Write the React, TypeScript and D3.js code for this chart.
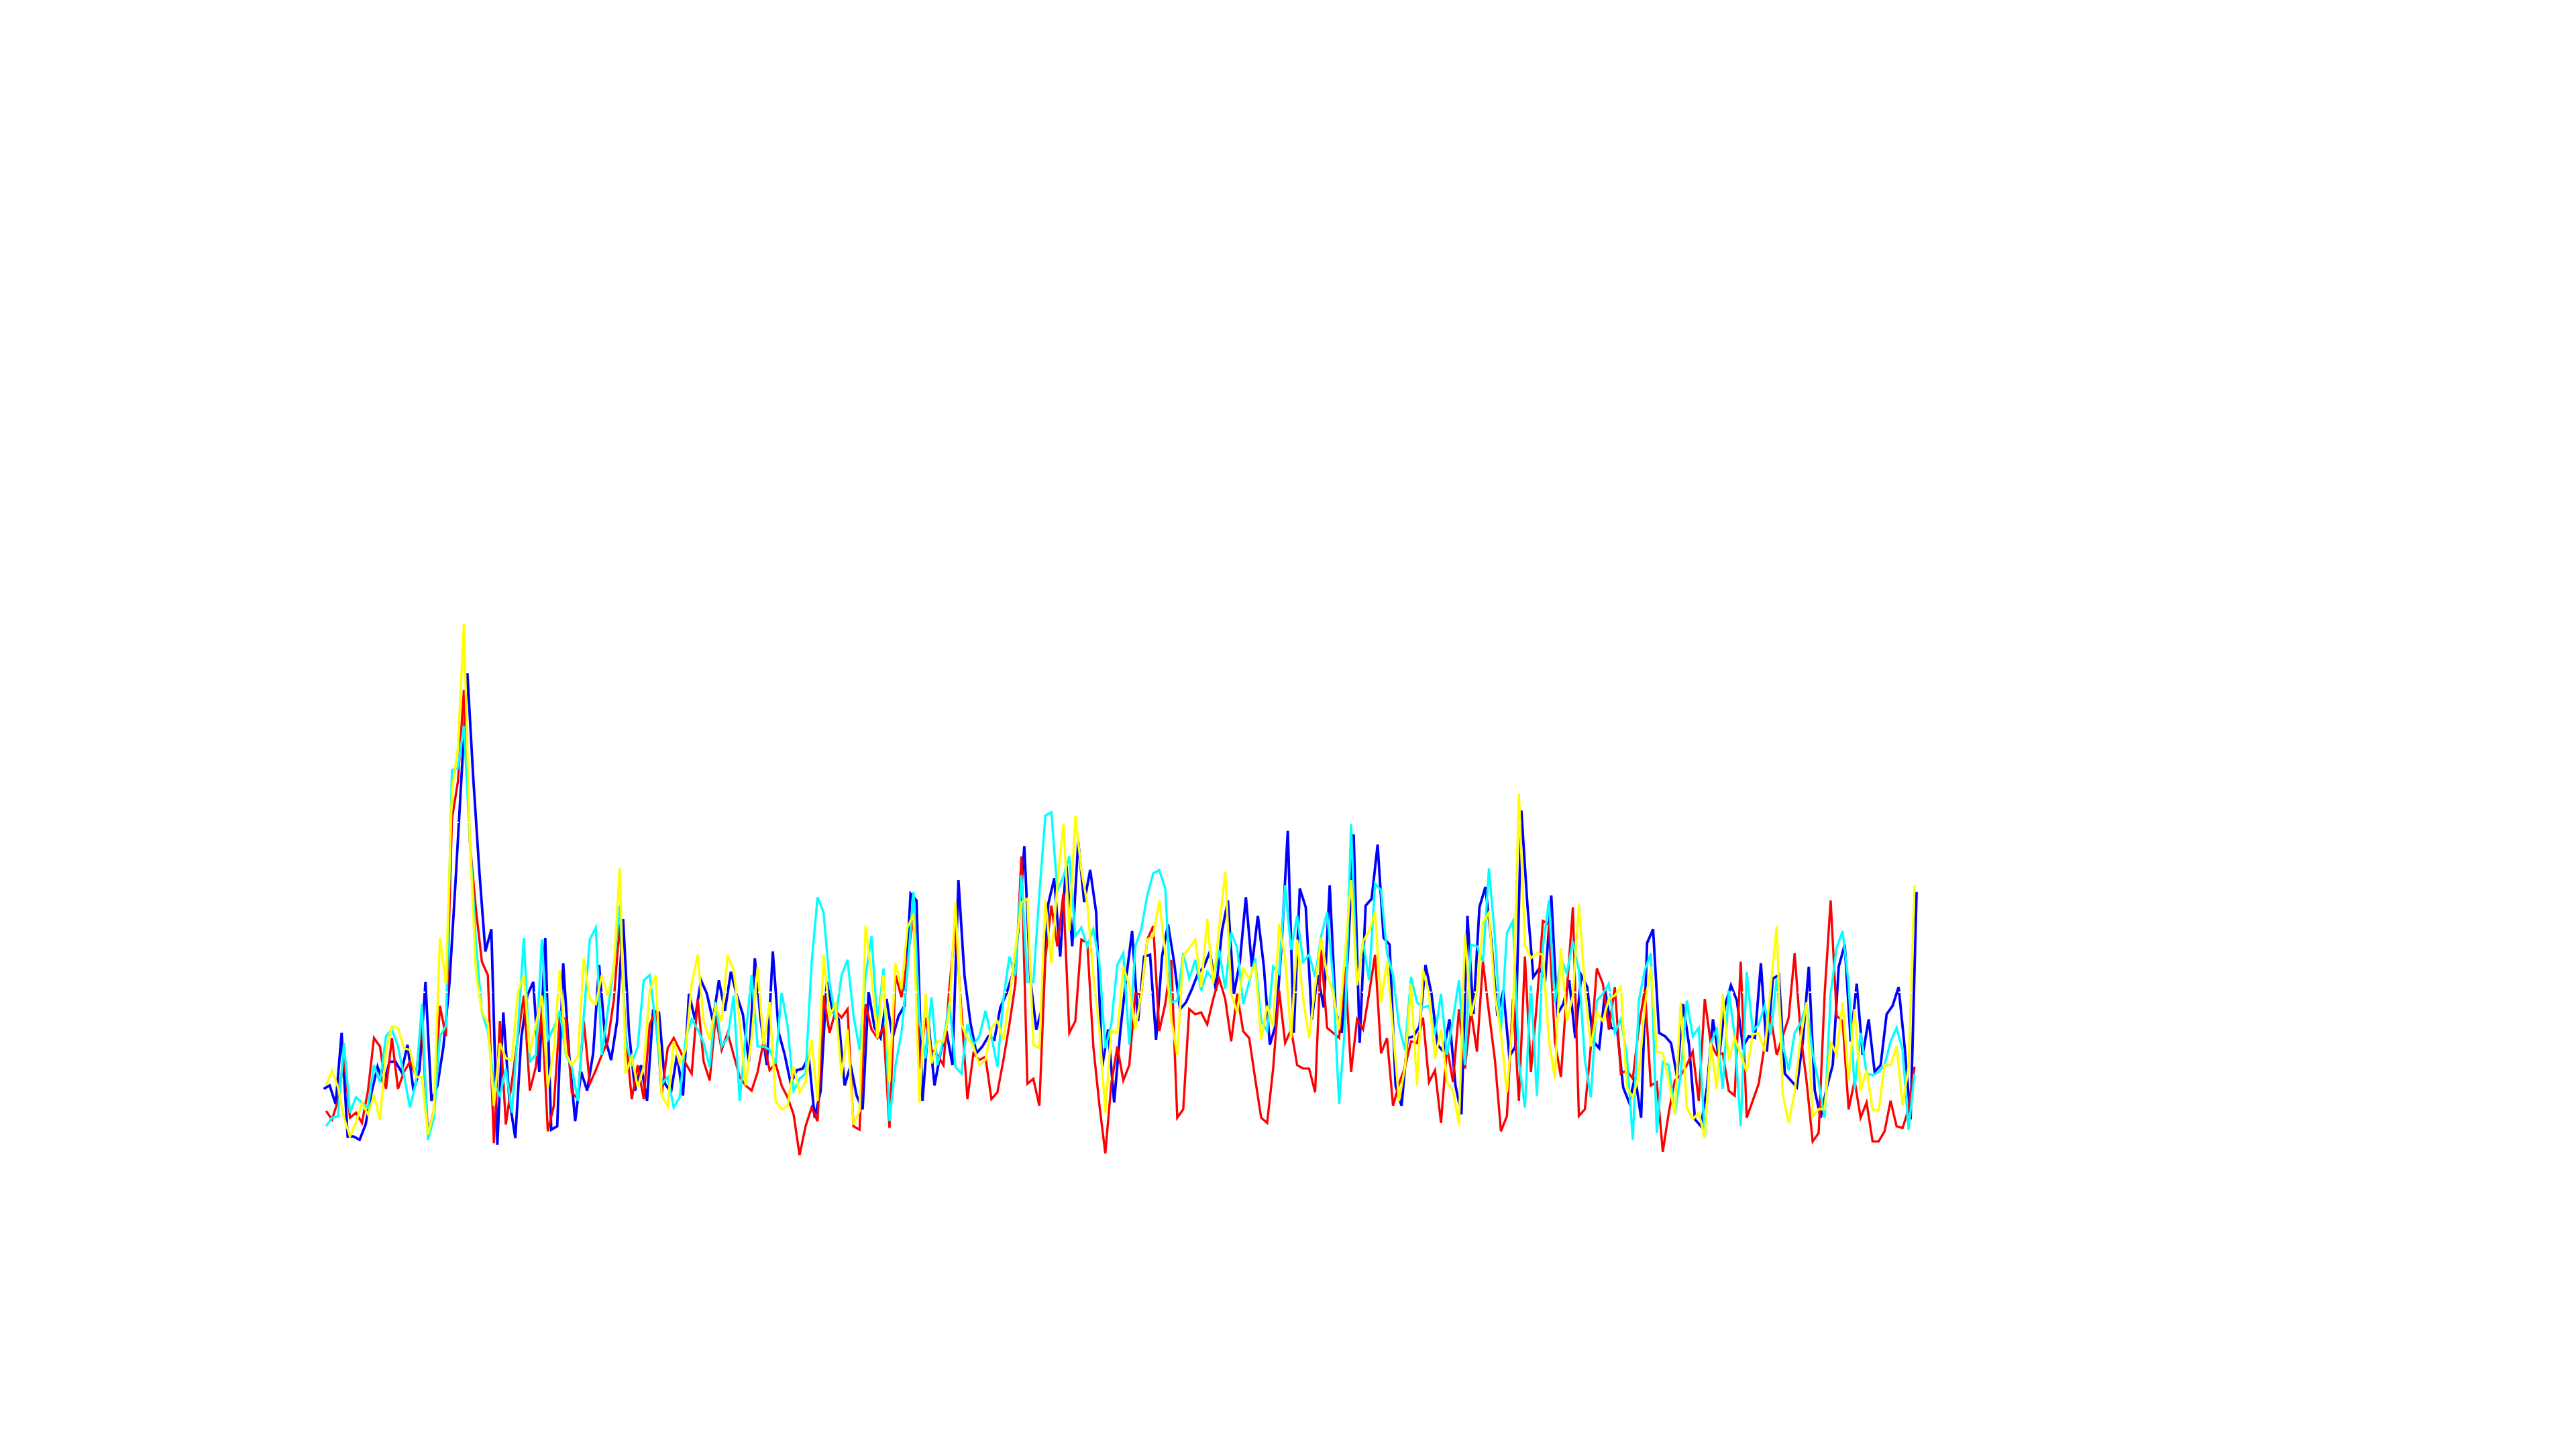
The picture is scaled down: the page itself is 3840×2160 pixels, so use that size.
import React, { useEffect, useRef } from "react";
import * as d3 from "d3";

// readings, one value per vertex
const blueValues = [
  0.43, 0.45, 0.34, 0.76, 0.15, 0.15, 0.13, 0.22, 0.41, 0.56,
  0.46, 0.59, 0.59, 0.53, 0.69, 0.42, 0.54, 1.06, 0.36, 0.45,
  0.68, 1.05, 1.64, 2.26, 2.88, 2.25, 1.71, 1.24, 1.37, 0.10,
  0.88, 0.37, 0.14, 0.73, 0.98, 1.06, 0.53, 1.32, 0.19, 0.21,
  1.17, 0.63, 0.24, 0.53, 0.42, 0.64, 1.16, 0.73, 0.60, 0.83,
  1.43, 0.76, 0.42, 0.57, 0.36, 0.89, 0.88, 0.46, 0.41, 0.63,
  0.39, 0.99, 0.84, 1.07, 0.99, 0.83, 1.07, 0.89, 1.12, 0.98,
  0.87, 0.59, 1.20, 0.83, 0.57, 1.24, 0.76, 0.63, 0.46, 0.54,
  0.55, 0.62, 0.26, 0.42, 1.06, 0.89, 0.84, 0.45, 0.57, 0.39,
  0.31, 1.00, 0.79, 0.73, 0.96, 0.73, 0.86, 0.92, 1.58, 1.54,
  0.36, 0.82, 0.45, 0.64, 0.77, 0.57, 1.66, 1.10, 0.82, 0.64,
  0.68, 0.74, 0.72, 0.91, 0.99, 1.10, 1.36, 1.86, 1.08, 0.78,
  0.91, 1.52, 1.67, 1.21, 1.77, 1.27, 1.89, 1.53, 1.72, 1.47,
  0.56, 0.78, 0.35, 0.76, 1.08, 1.36, 0.83, 1.21, 1.22, 0.72,
  1.21, 1.40, 1.18, 0.90, 0.94, 1.02, 1.11, 1.15, 1.24, 1.01,
  1.36, 1.54, 0.99, 1.18, 1.56, 1.15, 1.45, 1.15, 0.69, 0.81,
  1.30, 1.95, 0.76, 1.61, 1.50, 0.84, 1.10, 0.91, 1.63, 0.89,
  0.76, 1.20, 1.93, 0.70, 1.51, 1.55, 1.87, 1.32, 1.28, 0.45,
  0.33, 0.73, 0.74, 0.80, 1.16, 0.99, 0.69, 0.65, 0.84, 0.45,
  0.28, 1.45, 0.87, 1.50, 1.62, 1.30, 0.86, 1.01, 0.62, 0.68,
  2.07, 1.52, 1.09, 1.14, 1.08, 1.57, 0.87, 0.93, 1.07, 0.73,
  1.10, 1.03, 0.71, 0.67, 1.01, 0.79, 0.78, 0.44, 0.35, 0.50,
  0.26, 1.29, 1.37, 0.76, 0.74, 0.70, 0.50, 0.93, 0.69, 0.25,
  0.21, 0.44, 0.84, 0.61, 0.92, 1.04, 0.95, 0.68, 0.74, 0.73,
  1.17, 0.65, 1.08, 1.10, 0.52, 0.48, 0.44, 0.71, 1.15, 0.42,
  0.26, 0.44, 0.57, 1.15, 1.28, 0.71, 1.05, 0.63, 0.84, 0.53,
  0.57, 0.87, 0.92, 1.03, 0.68, 0.25, 1.59,
];

const redValues = [
  0.30, 0.25, 0.36, 0.62, 0.26, 0.29, 0.23, 0.42, 0.73, 0.68,
  0.43, 0.73, 0.43, 0.53, 0.59, 0.51, 0.81, 0.17, 0.30, 0.92,
  0.74, 2.02, 2.24, 2.78, 1.88, 1.49, 1.18, 1.10, 0.11, 0.83,
  0.22, 0.47, 0.73, 0.98, 0.42, 0.56, 0.89, 0.18, 0.33, 0.86,
  0.84, 0.41, 0.37, 0.83, 0.46, 0.54, 0.63, 0.71, 0.95, 1.40,
  0.74, 0.37, 0.57, 0.37, 0.81, 0.89, 0.40, 0.67, 0.73, 0.66,
  0.58, 0.52, 0.96, 0.59, 0.48, 0.86, 0.66, 0.76, 0.63, 0.50,
  0.45, 0.42, 0.53, 0.71, 0.54, 0.58, 0.45, 0.38, 0.28, 0.04,
  0.21, 0.32, 0.24, 0.98, 0.76, 0.89, 0.85, 0.90, 0.21, 0.19,
  0.93, 0.78, 0.73, 0.79, 0.20, 1.10, 0.97, 1.20, 1.45, 0.55,
  0.85, 0.66, 0.63, 0.57, 1.03, 1.40, 0.89, 0.37, 0.64, 0.60,
  0.62, 0.37, 0.41, 0.60, 0.81, 1.05, 1.80, 0.46, 0.49, 0.33,
  1.20, 1.51, 1.27, 1.58, 0.76, 0.83, 1.31, 1.29, 0.68, 0.34,
  0.05, 0.46, 0.68, 0.48, 0.57, 0.99, 0.99, 1.31, 1.39, 0.77,
  0.93, 1.19, 0.26, 0.31, 0.90, 0.87, 0.88, 0.81, 0.96, 1.08,
  0.96, 0.71, 0.99, 0.77, 0.73, 0.49, 0.26, 0.23, 0.55, 1.01,
  0.70, 0.78, 0.57, 0.55, 0.55, 0.41, 1.25, 0.79, 0.76, 0.73,
  1.15, 0.53, 0.84, 0.78, 0.99, 1.22, 0.64, 0.73, 0.33, 0.46,
  0.56, 0.71, 0.70, 0.85, 0.47, 0.54, 0.23, 0.68, 0.47, 0.90,
  0.55, 0.89, 0.65, 1.18, 0.88, 0.60, 0.18, 0.27, 0.96, 0.36,
  1.21, 0.53, 0.94, 1.42, 1.40, 0.71, 0.50, 1.01, 1.50, 0.27,
  0.31, 0.68, 1.14, 1.05, 0.78, 1.03, 0.52, 0.54, 0.49, 0.79,
  1.02, 0.45, 0.47, 0.06, 0.29, 0.48, 0.51, 0.57, 0.65, 0.36,
  0.96, 0.70, 0.63, 0.64, 0.42, 0.39, 1.18, 0.26, 0.36, 0.46,
  0.69, 0.86, 0.63, 0.74, 0.85, 1.23, 0.75, 0.47, 0.12, 0.17,
  0.99, 1.54, 0.86, 0.83, 0.31, 0.48, 0.26, 0.35, 0.12, 0.12,
  0.18, 0.36, 0.21, 0.20, 0.31, 0.56,
];

const cyanValues = [
  0.21, 0.26, 0.27, 0.70, 0.29, 0.38, 0.35, 0.32, 0.57, 0.47,
  0.74, 0.78, 0.68, 0.51, 0.32, 0.47, 0.93, 0.13, 0.26, 0.74,
  0.80, 2.31, 2.32, 2.57, 1.90, 1.30, 0.88, 0.77, 0.46, 0.39,
  0.55, 0.29, 0.76, 1.32, 0.59, 0.63, 1.31, 0.72, 0.79, 0.89,
  0.63, 0.56, 0.36, 0.86, 1.31, 1.38, 0.63, 0.89, 1.15, 1.51,
  0.71, 0.58, 0.68, 1.07, 1.10, 0.81, 0.46, 0.50, 0.32, 0.38,
  0.73, 0.84, 0.78, 0.70, 0.56, 0.94, 0.68, 0.73, 0.98, 0.36,
  0.74, 1.10, 0.68, 0.68, 0.66, 0.58, 1.00, 0.80, 0.42, 0.49,
  0.52, 1.17, 1.56, 1.47, 1.06, 0.84, 1.10, 1.19, 0.86, 0.66,
  1.09, 1.33, 0.81, 1.14, 0.24, 0.57, 0.76, 1.13, 1.59, 0.83,
  0.61, 0.97, 0.57, 0.72, 0.94, 0.56, 0.52, 0.81, 0.69, 0.74,
  0.89, 0.74, 0.56, 0.96, 1.21, 1.10, 1.69, 1.06, 1.06, 1.58,
  2.04, 2.06, 1.60, 1.68, 1.80, 1.33, 1.38, 1.27, 1.37, 1.18,
  0.67, 0.81, 1.16, 1.23, 0.69, 1.27, 1.37, 1.57, 1.70, 1.72,
  1.61, 0.94, 0.95, 1.23, 1.08, 1.19, 1.01, 1.12, 1.07, 1.25,
  1.02, 1.35, 1.26, 0.93, 1.06, 1.20, 0.83, 0.77, 1.15, 1.11,
  1.63, 1.25, 1.45, 1.18, 1.22, 1.09, 1.33, 1.47, 1.08, 0.34,
  0.81, 1.99, 1.04, 1.30, 1.07, 1.64, 1.60, 1.23, 1.10, 0.80,
  0.66, 1.09, 0.94, 0.91, 0.92, 0.75, 0.99, 0.63, 0.84, 1.07,
  0.57, 1.28, 1.27, 1.18, 1.73, 1.32, 0.77, 1.35, 1.42, 0.59,
  0.32, 1.04, 0.39, 1.26, 1.54, 0.94, 1.20, 1.11, 1.30, 1.13,
  0.60, 0.38, 0.95, 0.99, 1.05, 0.76, 0.84, 0.63, 0.13, 0.95,
  1.13, 1.23, 0.17, 0.59, 0.57, 0.28, 0.52, 0.95, 0.74, 0.79,
  0.15, 0.70, 0.78, 0.43, 1.01, 0.74, 0.21, 1.12, 0.77, 0.81,
  0.92, 0.75, 1.08, 0.69, 0.54, 0.76, 0.82, 0.93, 0.64, 0.47,
  0.26, 0.99, 1.26, 1.36, 1.05, 0.43, 0.76, 0.52, 0.51, 0.53,
  0.57, 0.71, 0.79, 0.66, 0.19, 0.52,
];

const yellowValues = [
  0.45, 0.54, 0.44, 0.26, 0.15, 0.23, 0.35, 0.28, 0.39, 0.25,
  0.65, 0.80, 0.79, 0.67, 0.66, 0.50, 0.50, 0.16, 0.30, 1.32,
  1.05, 2.18, 2.44, 3.17, 1.90, 1.12, 0.88, 0.82, 0.33, 0.70,
  0.61, 0.60, 1.00, 1.10, 0.64, 0.81, 0.98, 0.44, 0.66, 1.13,
  0.64, 0.57, 0.62, 1.20, 0.96, 0.93, 1.10, 0.98, 1.14, 1.73,
  0.52, 0.62, 0.44, 0.56, 1.01, 1.10, 0.39, 0.33, 0.71, 0.58,
  0.66, 1.05, 1.22, 0.83, 0.72, 0.92, 0.83, 1.22, 1.13, 0.82,
  0.45, 0.73, 1.15, 0.69, 0.94, 0.36, 0.31, 0.33, 0.56, 0.41,
  0.47, 0.72, 0.36, 1.22, 0.86, 0.93, 0.51, 0.78, 0.22, 0.30,
  1.39, 1.10, 0.73, 1.10, 0.47, 1.17, 1.02, 1.38, 1.46, 0.35,
  0.99, 0.58, 0.71, 0.71, 0.89, 1.53, 0.81, 0.73, 0.68, 0.57,
  0.60, 0.79, 0.83, 0.72, 0.97, 1.25, 1.53, 1.55, 0.69, 0.67,
  1.54, 1.17, 1.63, 1.99, 1.36, 2.04, 1.72, 1.52, 1.10, 0.79,
  0.29, 0.77, 0.76, 1.15, 1.04, 0.78, 0.99, 1.31, 1.33, 1.54,
  1.23, 0.84, 0.63, 1.21, 1.26, 1.31, 1.03, 1.43, 1.05, 1.38,
  1.71, 0.99, 0.88, 1.14, 1.08, 1.17, 0.72, 0.92, 0.80, 1.40,
  1.20, 0.73, 1.31, 0.96, 0.73, 1.03, 1.32, 1.10, 1.00, 0.78,
  1.23, 1.66, 1.04, 1.30, 1.36, 1.47, 0.94, 1.18, 0.77, 0.36,
  0.56, 1.05, 0.45, 1.13, 0.99, 0.61, 0.78, 0.47, 0.42, 0.22,
  1.34, 0.86, 1.01, 1.41, 1.47, 0.98, 0.76, 0.41, 0.86, 2.17,
  1.28, 1.20, 1.23, 1.22, 0.72, 0.49, 1.26, 0.83, 0.98, 1.52,
  1.03, 0.68, 0.88, 0.83, 0.96, 0.98, 1.03, 0.44, 0.38, 0.51,
  0.92, 1.15, 0.65, 0.64, 0.48, 0.28, 0.94, 0.32, 0.25, 0.29,
  0.14, 0.70, 0.43, 0.99, 0.60, 0.73, 0.63, 0.53, 0.75, 0.76,
  0.65, 1.03, 1.39, 0.40, 0.23, 0.41, 0.73, 0.94, 0.27, 0.31,
  0.31, 0.71, 0.63, 0.94, 0.48, 0.90, 0.42, 0.54, 0.31, 0.30,
  0.57, 0.57, 0.68, 0.33, 0.56, 1.63,
];

// the hidden y grid, drawn white over the lines
const gridValues = [1, 2];

const series = [
  { name: "blue", color: "#0000ff", values: blueValues, width: 3.8, span: [482.5, 2857] },
  { name: "red", color: "#ff0000", values: redValues, width: 3.4, span: [486, 2854] },
  { name: "cyan", color: "#00ffff", values: cyanValues, width: 3.4, span: [486, 2854] },
  { name: "yellow", color: "#ffff00", values: yellowValues, width: 3.4, span: [486, 2854] },
];

const W = 3840;
const H = 2160;

export default function App() {
  const svgRef = useRef<SVGSVGElement | null>(null);

  useEffect(() => {
    const svg = d3.select(svgRef.current);
    svg.selectAll("*").remove();

    const y = d3.scaleLinear().domain([0, 3]).range([1732, 973]);

    series.forEach((s) => {
      const x = d3
        .scaleLinear()
        .domain([0, s.values.length - 1])
        .range(s.span);
      const line = d3
        .line<number>()
        .x((d, i) => x(i))
        .y((d) => y(d));

      svg
        .append("path")
        .datum(s.values)
        .attr("d", line)
        .attr("fill", "none")
        .attr("stroke", s.color)
        .attr("stroke-width", s.width)
        .attr("stroke-linejoin", "miter")
        .attr("stroke-linecap", "butt");
    });

    svg
      .selectAll("line.grid")
      .data(gridValues)
      .enter()
      .append("line")
      .attr("class", "grid")
      .attr("x1", 0)
      .attr("x2", W)
      .attr("y1", (d) => y(d))
      .attr("y2", (d) => y(d))
      .attr("stroke", "#fff")
      .attr("stroke-width", 2)
      .attr("stroke-dasharray", "4,12.67")
      .attr("stroke-dashoffset", 3.6);
  }, []);

  return (
    <svg
      ref={svgRef}
      width={W}
      height={H}
      style={{ position: "absolute", left: 0, top: 0, background: "#fff" }}
    />
  );
}
